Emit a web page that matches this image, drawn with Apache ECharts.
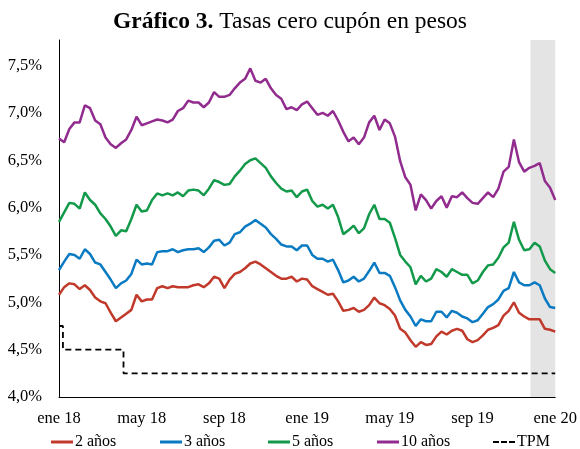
<!DOCTYPE html>
<html>
<head>
<meta charset="utf-8">
<script src="https://cdn.jsdelivr.net/npm/echarts@6/dist/echarts.min.js"></script>
<style>
  html, body { margin: 0; padding: 0; background: #fff; }
  #chart { width: 580px; height: 449px; }
</style>
</head>
<body>
<div id="chart"></div>
<script>
// eje x en meses desde ene 18, una observación cada 1/4 de mes
const STEP = 0.25
const xLabels = ['ene 18', 'may 18', 'sep 18', 'ene 19', 'may 19', 'sep 19', 'ene 20']

// tasas cero cupón (%)
const tasa2 = [
  5.08, 5.16, 5.20, 5.19, 5.14, 5.18, 5.13, 5.05, 5.01, 4.99, 4.89, 4.80, 4.84, 4.88, 4.92, 5.08,
  5.01, 5.03, 5.03, 5.15, 5.17, 5.15, 5.17, 5.16, 5.16, 5.16, 5.18, 5.19, 5.16, 5.20, 5.27, 5.25,
  5.15, 5.24, 5.30, 5.32, 5.36, 5.41, 5.43, 5.40, 5.36, 5.32, 5.28, 5.25, 5.25, 5.27, 5.22, 5.25,
  5.24, 5.17, 5.14, 5.11, 5.08, 5.09, 5.01, 4.91, 4.92, 4.94, 4.90, 4.92, 4.97, 5.05, 4.99, 4.97,
  4.93, 4.86, 4.72, 4.68, 4.60, 4.53, 4.58, 4.55, 4.56, 4.64, 4.69, 4.66, 4.70, 4.72, 4.70, 4.61,
  4.58, 4.60, 4.65, 4.71, 4.73, 4.76, 4.86, 4.91, 5.00, 4.89, 4.85, 4.82, 4.82, 4.82, 4.72, 4.71,
  4.69
]
const tasa3 = [
  5.34, 5.43, 5.51, 5.50, 5.46, 5.56, 5.51, 5.42, 5.40, 5.32, 5.24, 5.15, 5.20, 5.23, 5.30, 5.45,
  5.40, 5.41, 5.40, 5.53, 5.54, 5.54, 5.56, 5.53, 5.55, 5.56, 5.56, 5.57, 5.53, 5.58, 5.65, 5.66,
  5.60, 5.63, 5.72, 5.74, 5.80, 5.83, 5.87, 5.83, 5.79, 5.72, 5.67, 5.61, 5.59, 5.59, 5.55, 5.60,
  5.60, 5.50, 5.46, 5.46, 5.43, 5.45, 5.34, 5.21, 5.23, 5.27, 5.22, 5.25, 5.33, 5.42, 5.31, 5.31,
  5.28, 5.16, 5.02, 4.92, 4.85, 4.75, 4.82, 4.80, 4.80, 4.90, 4.90, 4.84, 4.91, 4.89, 4.85, 4.83,
  4.79, 4.81, 4.88, 4.95, 4.98, 5.03, 5.12, 5.15, 5.32, 5.21, 5.18, 5.18, 5.21, 5.18, 5.04, 4.95,
  4.94
]
const tasa5 = [
  5.85, 5.95, 6.05, 6.04, 5.99, 6.16, 6.08, 6.03, 5.94, 5.88, 5.80, 5.70, 5.76, 5.75, 5.88, 6.03,
  5.96, 5.97, 6.08, 6.15, 6.13, 6.15, 6.13, 6.16, 6.12, 6.18, 6.19, 6.18, 6.13, 6.20, 6.29, 6.27,
  6.24, 6.25, 6.33, 6.39, 6.46, 6.50, 6.52, 6.47, 6.42, 6.33, 6.26, 6.20, 6.17, 6.18, 6.11, 6.17,
  6.19, 6.07, 6.01, 6.03, 5.99, 6.03, 5.90, 5.72, 5.76, 5.81, 5.73, 5.78, 5.93, 6.03, 5.88, 5.88,
  5.84, 5.68, 5.50, 5.43, 5.37, 5.19, 5.28, 5.22, 5.25, 5.35, 5.32, 5.27, 5.35, 5.32, 5.29, 5.29,
  5.20, 5.23, 5.32, 5.39, 5.40, 5.47, 5.58, 5.63, 5.85, 5.66, 5.55, 5.56, 5.63, 5.59, 5.44, 5.35,
  5.31
]
const tasa10 = [
  6.73, 6.69, 6.83, 6.90, 6.90, 7.08, 7.05, 6.92, 6.88, 6.74, 6.67, 6.63, 6.68, 6.72, 6.82, 6.96,
  6.87, 6.89, 6.91, 6.93, 6.92, 6.90, 6.93, 7.02, 7.05, 7.13, 7.11, 7.11, 7.06, 7.11, 7.22, 7.17,
  7.17, 7.19, 7.26, 7.32, 7.36, 7.47, 7.34, 7.32, 7.36, 7.26, 7.19, 7.15, 7.04, 7.06, 7.03, 7.09,
  7.12, 7.05, 6.98, 7.00, 6.97, 7.02, 6.92, 6.80, 6.70, 6.74, 6.67, 6.74, 6.90, 6.97, 6.82, 6.93,
  6.89, 6.75, 6.49, 6.32, 6.24, 5.97, 6.14, 6.08, 5.99, 6.07, 6.12, 6.00, 6.12, 6.11, 6.16, 6.10,
  6.05, 6.04, 6.10, 6.16, 6.11, 6.20, 6.38, 6.43, 6.72, 6.48, 6.38, 6.42, 6.44, 6.47, 6.28, 6.21,
  6.08
]

// tasa de política monetaria: mes del cambio y nivel
const tpmMonths = [0, 0.19, 3.12, 24]
const tpmRates = [4.75, 4.5, 4.25, 4.25]

// período sombreado (meses)
const shadeFrom = 22.8
const shadeTo = 24

const FONT = 'Liberation Serif'

const chart = echarts.init(document.getElementById('chart'))

const toPairs = arr => arr.map((v, i) => [i * STEP, v])

function lineSeries(name, color, values, extra) {
  return Object.assign({
    name,
    type: 'line',
    data: toPairs(values),
    showSymbol: false,
    symbol: 'none',
    lineStyle: { color, width: 2.5 },
    itemStyle: { color },
    z: 3,
    animation: false
  }, extra || {})
}

const names = ['2 años', '3 años', '5 años', '10 años', 'TPM']
const legendLeft = [46, 155, 263, 372, 488]
const solidIcon = 'rect'
const dashIcon = 'path://M0,0h6v2h-6z M8,0h6v2h-6z M16,0h6v2h-6z'

chart.setOption({
  animation: false,
  title: {
    text: '{b|Gráfico 3.} Tasas cero cupón en pesos',
    left: 'center',
    top: 5,
    textStyle: {
      fontFamily: FONT,
      fontSize: 23.5,
      fontWeight: 'normal',
      color: '#000',
      rich: { b: { fontFamily: FONT, fontSize: 23.5, fontWeight: 'bold', color: '#000' } }
    }
  },
  legend: names.map((n, i) => ({
    data: [n],
    left: legendLeft[i],
    top: 429,
    icon: n === 'TPM' ? dashIcon : solidIcon,
    itemWidth: 22,
    itemHeight: n === 'TPM' ? 2 : 3,
    itemGap: 0,
    textStyle: { fontFamily: FONT, fontSize: 16, color: '#000', padding: [0, 0, 0, -3] }
  })),
  grid: { left: 59, right: 24, top: 40, bottom: 52 },
  xAxis: {
    type: 'value',
    min: 0,
    max: 24,
    interval: 4,
    axisLine: { lineStyle: { color: '#000', width: 1 } },
    axisTick: { show: false },
    splitLine: { show: false },
    axisLabel: {
      margin: 13,
      fontFamily: FONT,
      fontSize: 16.5,
      color: '#000',
      formatter: v => xLabels[Math.round(v / 4)] || ''
    }
  },
  yAxis: {
    type: 'value',
    min: 4,
    max: 7.77,
    interval: 0.5,
    axisLine: { show: true, lineStyle: { color: '#000', width: 1 } },
    axisTick: { show: false },
    splitLine: { show: false },
    axisLabel: {
      showMaxLabel: false,
      margin: 17,
      fontFamily: FONT,
      fontSize: 16.5,
      color: '#000',
      formatter: v => v.toFixed(1).replace('.', ',') + '%'
    }
  },
  series: [
    {
      name: 'sombra',
      type: 'line',
      data: [],
      z: 1,
      silent: true,
      markArea: {
        silent: true,
        itemStyle: { color: '#E4E4E4' },
        data: [[{ xAxis: shadeFrom }, { xAxis: shadeTo }]]
      }
    },
    lineSeries('2 años', '#C0392B', tasa2),
    lineSeries('3 años', '#0A7BC2', tasa3),
    lineSeries('5 años', '#12994A', tasa5),
    lineSeries('10 años', '#912C8E', tasa10),
    lineSeries('TPM', '#000', tpmRates, {
      data: tpmMonths.map((m, i) => [m, tpmRates[i]]),
      step: 'end',
      lineStyle: { color: '#000', width: 1.8, type: [6, 4] }
    })
  ]
})
</script>
</body>
</html>
